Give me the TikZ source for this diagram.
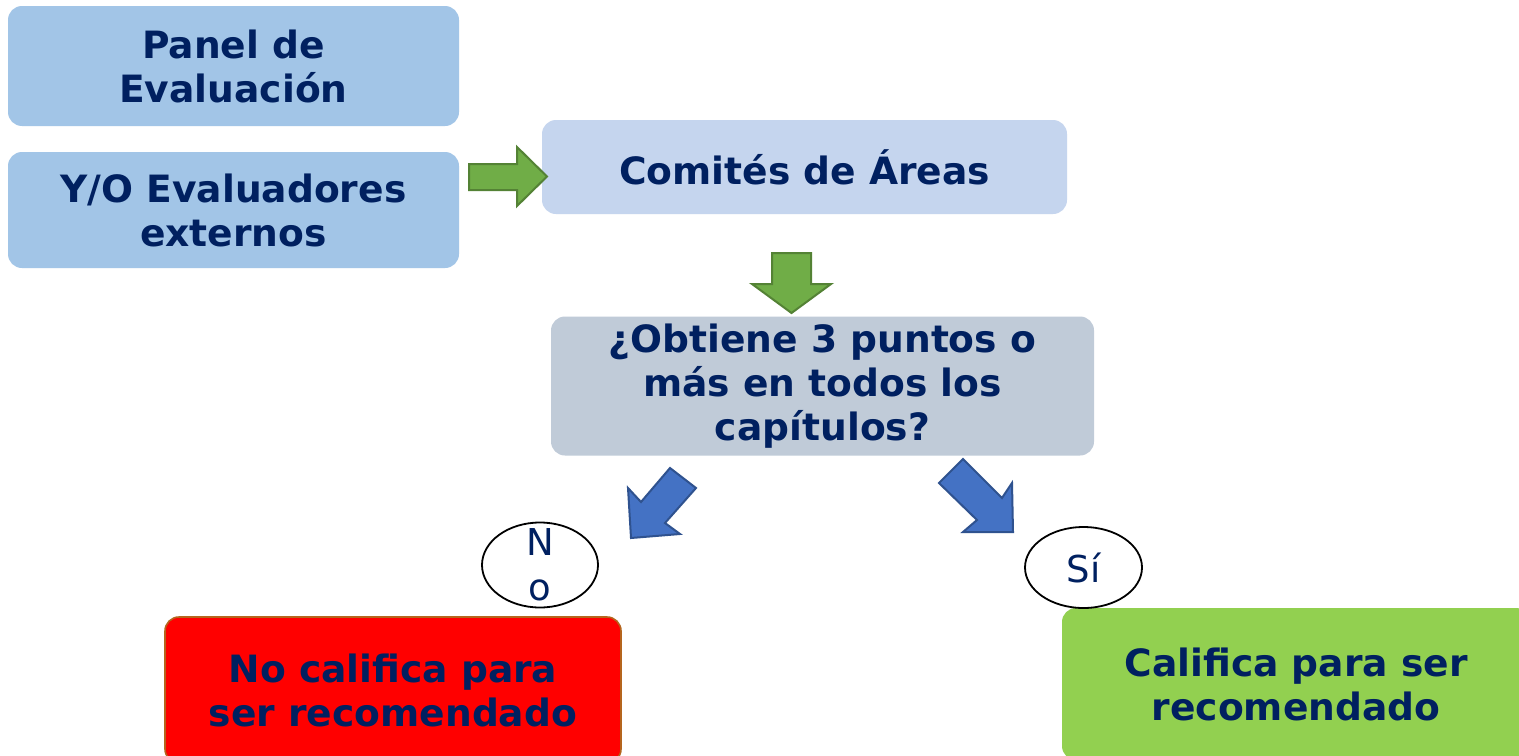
\documentclass[tikz,border=0pt]{standalone}
\usepackage{fontspec}
\setmainfont{DejaVu Sans}
\usetikzlibrary{shapes.geometric}
\definecolor{navy}{HTML}{002060}
\definecolor{lblue}{HTML}{A2C5E7}
\definecolor{pblue}{HTML}{C5D5EE}
\definecolor{gblue}{HTML}{C0CBD8}
\definecolor{agreen}{HTML}{70AD47}
\definecolor{agreenb}{HTML}{548235}
\definecolor{ablue}{HTML}{4472C4}
\definecolor{abluer}{HTML}{2F528F}
\definecolor{okgreen}{HTML}{92D050}
\definecolor{redb}{HTML}{B5651D}
\tikzset{
  box/.style={rounded corners=7pt, text=navy, align=center, inner sep=0pt,
    font=\fontsize{18.8}{22}\selectfont\bfseries},
  garrow/.style={fill=agreen, draw=agreenb, line width=1pt, line join=miter},
  barrow/.style={fill=ablue, draw=abluer, line width=1pt, line join=miter},
  oval/.style={ellipse, draw=black, line width=0.9pt, fill=white, inner sep=0pt},
  ovaltext/.style={text=navy, align=center, inner sep=0pt,
    font=\fontsize{18.5}{22.5}\selectfont}
}
\begin{document}
\begin{tikzpicture}[x=0.5pt,y=-0.5pt]
\useasboundingbox (0,0) rectangle (1519,755);
\clip (0,0) rectangle (1519,755);
\fill[white] (0,0) rectangle (1519,755);

% boxes
\node[box, fill=lblue, minimum width=225.5pt, minimum height=60pt] (panel) at (233.5,66) {Panel de\\Evaluación};
\node[box, fill=lblue, minimum width=225.5pt, minimum height=58pt] (yo) at (233.5,210) {Y/O Evaluadores\\externos};
\node[box, fill=pblue, minimum width=262.5pt, minimum height=47pt] (comites) at (804.5,167) {Comités de Áreas};
\node[box, fill=gblue, minimum width=271.5pt, minimum height=69.5pt] (decision) at (822.5,386) {¿Obtiene 3 puntos o\\más en todos los\\capítulos?};
\node[box, fill=red, draw=redb, line width=0.8pt, minimum width=228pt, minimum height=73pt] (nocal) at (393,690) {No califica para\\ser recomendado};
\node[box, fill=okgreen, minimum width=234pt, minimum height=76pt] (cal) at (1296,684) {Califica para ser\\recomendado};

% ovals
\node[oval, minimum width=58pt, minimum height=42.5pt] (no) at (540,565) {};
\node[ovaltext] (notext) at (no.center) {N\\o};
\node[oval, minimum width=58.5pt, minimum height=40.5pt] (si) at (1083.5,567.5) {};
\node[ovaltext] (sitext) at (si.center) {Sí};

% green block arrows
\draw[garrow] (469,164) -- (517,164) -- (517,147) -- (547,176.5) -- (517,206) -- (517,190) -- (469,190) -- cycle;
\draw[garrow] (772,253) -- (811,253) -- (811,284) -- (831,284) -- (791.5,313) -- (752,284) -- (772,284) -- cycle;

% blue block arrows
\draw[barrow] (670,468) -- (696,488) -- (665,523) -- (680,534) -- (631,538) -- (628,488) -- (641,502) -- cycle;
\draw[barrow] (963,459) -- (1002,498) -- (1012,483) -- (1013,532) -- (963,532) -- (977,520) -- (939,483) -- cycle;
\end{tikzpicture}
\end{document}
